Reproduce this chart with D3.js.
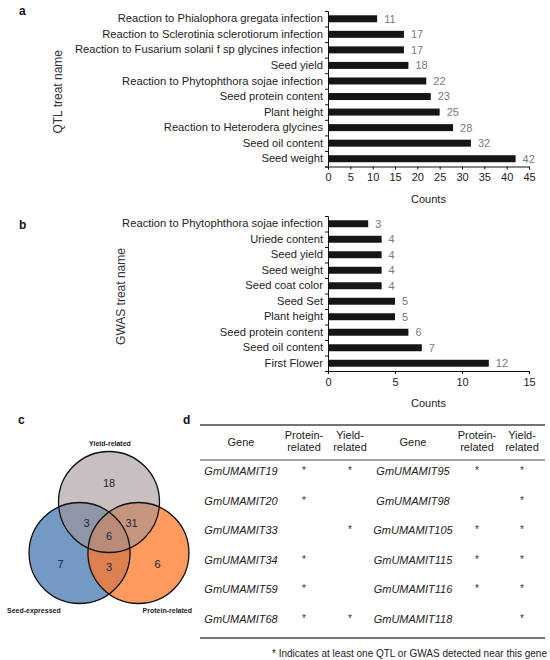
<!DOCTYPE html>
<html>
<head>
<meta charset="utf-8">
<script src="https://cdn.jsdelivr.net/npm/d3@7"></script>
<style>
  body { margin: 0; background: #fff; }
  svg { display: block; font-family: "Liberation Sans", Arial, sans-serif; }
</style>
</head>
<body>
<div id="chart"></div>
<script>
// ---- data ----
const qtlTraits = [
  'Reaction to Phialophora gregata infection',
  'Reaction to Sclerotinia sclerotiorum infection',
  'Reaction to Fusarium solani f sp glycines infection',
  'Seed yield',
  'Reaction to Phytophthora sojae infection',
  'Seed protein content',
  'Plant height',
  'Reaction to Heterodera glycines',
  'Seed oil content',
  'Seed weight'
];
const qtlCounts = [11, 17, 17, 18, 22, 23, 25, 28, 32, 42];
const qtlTicks = [0, 5, 10, 15, 20, 25, 30, 35, 40, 45];

const gwasTraits = [
  'Reaction to Phytophthora sojae infection',
  'Uriede content',
  'Seed yield',
  'Seed weight',
  'Seed coat color',
  'Seed Set',
  'Plant height',
  'Seed protein content',
  'Seed oil content',
  'First Flower'
];
const gwasCounts = [3, 4, 4, 4, 4, 5, 5, 6, 7, 12];
const gwasTicks = [0, 5, 10, 15];

// venn: set names, then region counts
const vennSets = ['Yield-related', 'Seed-expressed', 'Protein-related'];
const vennOnly = [18, 7, 6];          // yield, seed, protein only
const vennPairs = [3, 31, 3];         // yield+seed, yield+protein, seed+protein
const vennAll = 6;

// table
const tableHeaders = ['Gene', 'Protein-\nrelated', 'Yield-\nrelated', 'Gene', 'Protein-\nrelated', 'Yield-\nrelated'];
const genesLeft = ['GmUMAMIT19', 'GmUMAMIT20', 'GmUMAMIT33', 'GmUMAMIT34', 'GmUMAMIT59', 'GmUMAMIT68'];
const proteinLeft = [1, 1, 0, 1, 1, 1];
const yieldLeft = [1, 0, 1, 0, 0, 1];
const genesRight = ['GmUMAMIT95', 'GmUMAMIT98', 'GmUMAMIT105', 'GmUMAMIT115', 'GmUMAMIT116', 'GmUMAMIT118'];
const proteinRight = [1, 0, 1, 1, 1, 0];
const yieldRight = [1, 1, 1, 1, 1, 1];
const footnote = '* Indicates at least one QTL or GWAS detected near this gene';

// ---- svg ----
const svg = d3.select('#chart')
  .append('svg')
  .attr('width', 550)
  .attr('height', 660);

// panel letters
const panelLetters = [['a', 19, 15], ['b', 19, 229], ['c', 18, 424], ['d', 183, 424]];
svg.selectAll('.panel-letter')
  .data(panelLetters)
  .enter().append('text')
  .attr('x', d => d[1])
  .attr('y', d => d[2])
  .attr('font-size', 12)
  .attr('font-weight', 'bold')
  .attr('fill', '#111')
  .text(d => d[0]);

// horizontal bar chart
function barChart(cats, vals, ticks, top, bottom, titleText, titleX) {
  const x0 = 328, x1 = 529;
  const xScale = d3.scaleLinear().domain([0, d3.max(ticks)]).range([x0, x1]);
  const yScale = d3.scaleBand().domain(cats).range([top, bottom]).paddingInner(0.55).paddingOuter(0.275);
  const edge = d3.scaleLinear().domain([0, cats.length]).range([top, bottom]);
  const g = svg.append('g');

  g.selectAll('.bar')
    .data(cats)
    .enter().append('rect')
    .attr('x', x0)
    .attr('y', d => yScale(d))
    .attr('width', (d, i) => xScale(vals[i]) - x0)
    .attr('height', yScale.bandwidth())
    .attr('fill', '#151515');

  g.selectAll('.val')
    .data(cats)
    .enter().append('text')
    .attr('x', (d, i) => xScale(vals[i]) + 7)
    .attr('y', d => yScale(d) + yScale.bandwidth() / 2)
    .attr('dy', '0.36em')
    .attr('font-size', 11)
    .attr('fill', '#7a7a7a')
    .text((d, i) => vals[i]);

  // category labels
  const yAxis = g.append('g')
    .attr('transform', `translate(${x0},0)`)
    .call(d3.axisLeft(yScale).tickSize(0).tickPadding(5));
  yAxis.select('.domain').remove();
  yAxis.selectAll('text').attr('font-size', 11.2).attr('fill', '#222').attr('font-family', null);

  // boundary ticks + axis line
  const edgeAxis = g.append('g')
    .attr('transform', `translate(${x0},0)`)
    .call(d3.axisLeft(edge).ticks(cats.length).tickSize(3).tickSizeOuter(3).tickFormat(''));
  edgeAxis.selectAll('line, path').attr('stroke', '#111');

  const xAxis = g.append('g')
    .attr('transform', `translate(0,${bottom})`)
    .call(d3.axisBottom(xScale).tickValues(ticks).tickSize(3).tickSizeOuter(3).tickPadding(4));
  xAxis.selectAll('line, path').attr('stroke', '#111');
  xAxis.selectAll('text').attr('font-size', 11).attr('fill', '#222').attr('font-family', null);

  g.append('text')
    .attr('x', (x0 + x1) / 2)
    .attr('y', bottom + 36)
    .attr('text-anchor', 'middle')
    .attr('font-size', 11)
    .attr('fill', '#222')
    .text('Counts');

  g.append('text')
    .attr('transform', `translate(${titleX},${(top + bottom) / 2 + 3}) rotate(-90)`)
    .attr('text-anchor', 'middle')
    .attr('font-size', 12)
    .attr('fill', '#333')
    .text(titleText);
}

barChart(qtlTraits, qtlCounts, qtlTicks, 11, 166.5, 'QTL treat name', 62);
barChart(gwasTraits, gwasCounts, gwasTicks, 216, 371, 'GWAS treat name', 125);

// ---- venn ----
const vc = { x: 109, y: 536 }, vDist = 34, vR = 50.5;
const vAngles = [-90, 150, 30];
const rad = a => a * Math.PI / 180;
const circles = vAngles.map(a => ({ x: vc.x + vDist * Math.cos(rad(a)), y: vc.y + vDist * Math.sin(rad(a)) }));
const vennFill = ['rgba(162,148,150,0.6)', '#7399c4', 'rgba(255,120,40,0.75)'];
const drawOrder = [1, 2, 0];

const vg = svg.append('g');
vg.selectAll('.vfill')
  .data(drawOrder)
  .enter().append('circle')
  .attr('cx', i => circles[i].x)
  .attr('cy', i => circles[i].y)
  .attr('r', vR)
  .attr('fill', i => vennFill[i]);
vg.selectAll('.vline')
  .data(circles)
  .enter().append('circle')
  .attr('cx', d => d.x)
  .attr('cy', d => d.y)
  .attr('r', vR)
  .attr('fill', 'none')
  .attr('stroke', '#111')
  .attr('stroke-width', 1.3);

const pairAngles = [210, -30, 90];
const regionLabels = [
  ...vennOnly.map((v, i) => ({ v, a: vAngles[i], d: i === 0 ? 53 : 56 })),
  ...vennPairs.map((v, i) => ({ v, a: pairAngles[i], d: i === 2 ? 31 : 26 })),
  { v: vennAll, a: 0, d: 0 }
];
vg.selectAll('.vnum')
  .data(regionLabels)
  .enter().append('text')
  .attr('x', d => vc.x + d.d * Math.cos(rad(d.a)))
  .attr('y', d => vc.y + d.d * Math.sin(rad(d.a)))
  .attr('dy', '0.36em')
  .attr('text-anchor', 'middle')
  .attr('font-size', 11)
  .attr('fill', '#1e2433')
  .text(d => d.v);

const setLabelPos = [[110, 446, 'middle'], [7, 613, 'start'], [192, 613, 'end']];
vg.selectAll('.vset')
  .data(vennSets)
  .enter().append('text')
  .attr('x', (d, i) => setLabelPos[i][0])
  .attr('y', (d, i) => setLabelPos[i][1])
  .attr('text-anchor', (d, i) => setLabelPos[i][2])
  .attr('font-size', 7)
  .attr('font-weight', 'bold')
  .attr('fill', '#222')
  .text(d => d);

// ---- table ----
const tg = svg.append('g');
const colX = [241, 304, 350, 413, 477, 522];
const rowY = d3.scalePoint().domain(d3.range(genesLeft.length)).range([475, 623]);
const tLeft = 200, tRight = 545;

[425, 460, 638].forEach((y, i) => {
  tg.append('line')
    .attr('x1', tLeft).attr('x2', tRight)
    .attr('y1', y).attr('y2', y)
    .attr('stroke', '#444')
    .attr('stroke-width', i === 1 ? 1.2 : 1.6);
});

tableHeaders.forEach((h, i) => {
  const lines = h.split('\n');
  const t = tg.append('text')
    .attr('text-anchor', 'middle')
    .attr('font-size', 11)
    .attr('fill', '#222');
  if (lines.length === 1) {
    t.attr('x', colX[i]).attr('y', 446).text(h);
  } else {
    lines.forEach((ln, k) => {
      t.append('tspan').attr('x', colX[i]).attr('y', 439 + k * 12).text(ln);
    });
  }
});

function geneCol(names, x) {
  tg.selectAll(null)
    .data(names)
    .enter().append('text')
    .attr('x', x)
    .attr('y', (d, i) => rowY(i))
    .attr('text-anchor', 'middle')
    .attr('font-size', 11)
    .attr('font-style', 'italic')
    .attr('fill', '#222')
    .text(d => d);
}
function stars(flags, x) {
  tg.selectAll(null)
    .data(flags.map((f, i) => ({ f, i })).filter(d => d.f === 1))
    .enter().append('text')
    .attr('x', x)
    .attr('y', d => rowY(d.i) - 1)
    .attr('text-anchor', 'middle')
    .attr('font-size', 10)
    .attr('fill', '#333')
    .text('*');
}
geneCol(genesLeft, colX[0]);
stars(proteinLeft, colX[1]);
stars(yieldLeft, colX[2]);
geneCol(genesRight, colX[3]);
stars(proteinRight, colX[4]);
stars(yieldRight, colX[5]);

tg.append('text')
  .attr('x', 547)
  .attr('y', 657)
  .attr('text-anchor', 'end')
  .attr('font-size', 10)
  .attr('fill', '#222')
  .text(footnote);
</script>
</body>
</html>
